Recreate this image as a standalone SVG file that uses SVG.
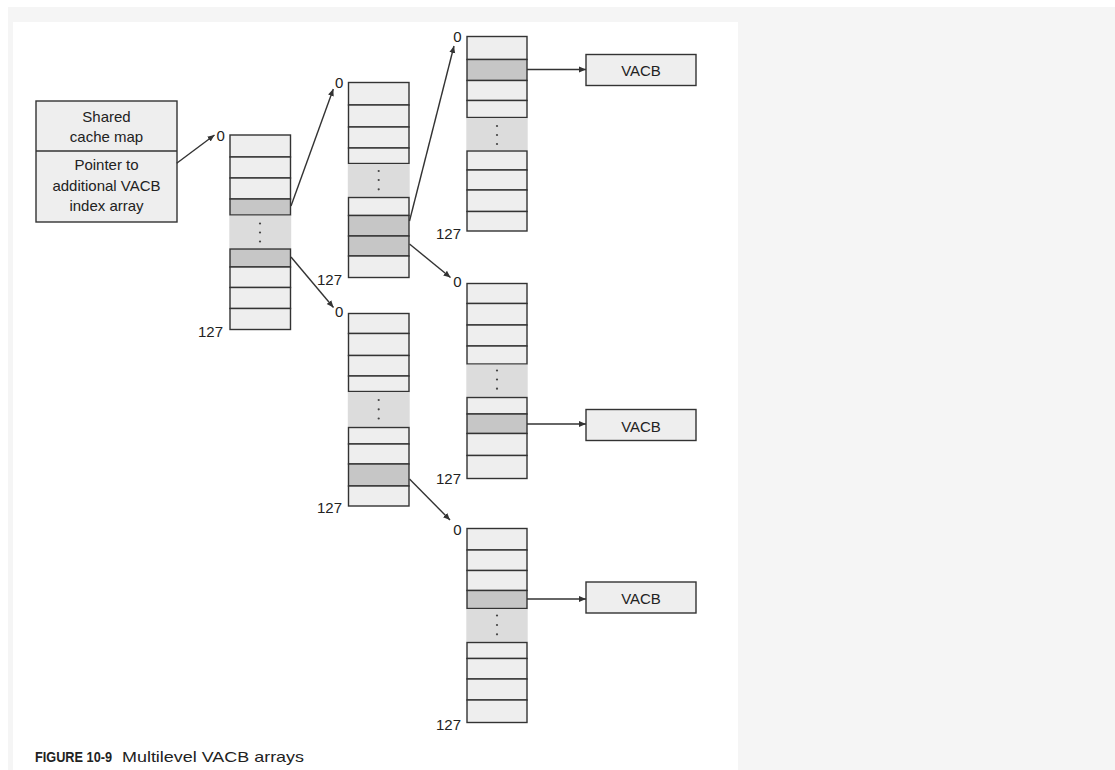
<svg xmlns="http://www.w3.org/2000/svg" width="1115" height="770" viewBox="0 0 1115 770">
<style>
.l{fill:#eeeeee;stroke:#333;stroke-width:1.4}
.d{fill:#c6c6c6;stroke:#333;stroke-width:1.4}
.g{fill:#dcdcdc;stroke:none}
.dot{fill:#444}
.t{font-family:"Liberation Sans",Arial,sans-serif;font-size:15px;fill:#222}
.c{text-anchor:middle}
.e{text-anchor:end}
.cn{stroke:#333;stroke-width:1.4;fill:none;marker-end:url(#ah)}
</style>
<defs>
<marker id="ah" markerUnits="userSpaceOnUse" markerWidth="8" markerHeight="8" viewBox="0 0 8 8" refX="7" refY="4" orient="auto">
<path d="M0,1 L7,4 L0,7 Z" fill="#333"/>
</marker>
</defs>
<rect x="0" y="0" width="1115" height="770" fill="#ffffff"/>
<rect x="8" y="7" width="1107" height="763" fill="#f5f5f5"/>
<rect x="13" y="22" width="725" height="748" fill="#ffffff"/>

<g id="shared-cache-map">
<rect x="36" y="101" width="141" height="121" class="l"/>
<line x1="36" y1="151" x2="177" y2="151" stroke="#333" stroke-width="1.4"/>
<text class="t c" x="106.5" y="122">Shared</text>
<text class="t c" x="106.5" y="142">cache map</text>
<text class="t c" x="106.5" y="169.5">Pointer to</text>
<text class="t c" x="106.5" y="190.5">additional VACB</text>
<text class="t c" x="106.5" y="210.5">index array</text>
</g>

<g id="array-1">
<rect x="230" y="135" width="60.5" height="22" class="l"/>
<rect x="230" y="157" width="60.5" height="21" class="l"/>
<rect x="230" y="178" width="60.5" height="21" class="l"/>
<rect x="230" y="199" width="60.5" height="16" class="d"/>
<rect x="229.3" y="215.7" width="61.9" height="32.6" class="g"/>
<circle class="dot" cx="260" cy="223.5" r="1.1"/><circle class="dot" cx="260" cy="232.5" r="1.1"/><circle class="dot" cx="260" cy="241.5" r="1.1"/>
<rect x="230" y="249" width="60.5" height="18" class="d"/>
<rect x="230" y="267" width="60.5" height="20.5" class="l"/>
<rect x="230" y="287.5" width="60.5" height="21" class="l"/>
<rect x="230" y="308.5" width="60.5" height="21" class="l"/>
<text class="t" x="216.5" y="140.5">0</text>
<text class="t e" x="223" y="336.5">127</text>
</g>

<g id="array-2a">
<rect x="348.5" y="82.5" width="60.5" height="22.5" class="l"/>
<rect x="348.5" y="105" width="60.5" height="22" class="l"/>
<rect x="348.5" y="127" width="60.5" height="21" class="l"/>
<rect x="348.5" y="148" width="60.5" height="15.5" class="l"/>
<rect x="347.8" y="164.2" width="61.9" height="32.6" class="g"/>
<circle class="dot" cx="378.7" cy="171" r="1.1"/><circle class="dot" cx="378.7" cy="180" r="1.1"/><circle class="dot" cx="378.7" cy="189.3" r="1.1"/>
<rect x="348.5" y="197.5" width="60.5" height="18" class="l"/>
<rect x="348.5" y="215.5" width="60.5" height="20.5" class="d"/>
<rect x="348.5" y="236" width="60.5" height="20" class="d"/>
<rect x="348.5" y="256" width="60.5" height="21.5" class="l"/>
<text class="t" x="335" y="88">0</text>
<text class="t e" x="342" y="285">127</text>
</g>

<g id="array-2b">
<rect x="348.5" y="313.5" width="60.5" height="20" class="l"/>
<rect x="348.5" y="333.5" width="60.5" height="22" class="l"/>
<rect x="348.5" y="355.5" width="60.5" height="20.5" class="l"/>
<rect x="348.5" y="376" width="60.5" height="15.5" class="l"/>
<rect x="347.8" y="392.2" width="61.9" height="34.6" class="g"/>
<circle class="dot" cx="378.7" cy="400" r="1.1"/><circle class="dot" cx="378.7" cy="409.3" r="1.1"/><circle class="dot" cx="378.7" cy="418.5" r="1.1"/>
<rect x="348.5" y="427.5" width="60.5" height="16.5" class="l"/>
<rect x="348.5" y="444" width="60.5" height="20" class="l"/>
<rect x="348.5" y="464" width="60.5" height="22" class="d"/>
<rect x="348.5" y="486" width="60.5" height="20" class="l"/>
<text class="t" x="335" y="316.5">0</text>
<text class="t e" x="342" y="512.5">127</text>
</g>

<g id="array-3a">
<rect x="467" y="36.5" width="60" height="23" class="l"/>
<rect x="467" y="59.5" width="60" height="21" class="d"/>
<rect x="467" y="80.5" width="60" height="20" class="l"/>
<rect x="467" y="100.5" width="60" height="17" class="l"/>
<rect x="466.3" y="118.2" width="61.4" height="32.1" class="g"/>
<circle class="dot" cx="497" cy="126" r="1.1"/><circle class="dot" cx="497" cy="135" r="1.1"/><circle class="dot" cx="497" cy="144" r="1.1"/>
<rect x="467" y="151" width="60" height="19" class="l"/>
<rect x="467" y="170" width="60" height="20" class="l"/>
<rect x="467" y="190" width="60" height="21.5" class="l"/>
<rect x="467" y="211.5" width="60" height="19.5" class="l"/>
<text class="t" x="453.3" y="41.5">0</text>
<text class="t e" x="461" y="238.5">127</text>
</g>

<g id="array-3b">
<rect x="467" y="283.5" width="60" height="20" class="l"/>
<rect x="467" y="303.5" width="60" height="21.5" class="l"/>
<rect x="467" y="325" width="60" height="21" class="l"/>
<rect x="467" y="346" width="60" height="18" class="l"/>
<rect x="466.3" y="364.7" width="61.4" height="32.1" class="g"/>
<circle class="dot" cx="497" cy="370.5" r="1.1"/><circle class="dot" cx="497" cy="379.5" r="1.1"/><circle class="dot" cx="497" cy="388.7" r="1.1"/>
<rect x="467" y="397.5" width="60" height="16.5" class="l"/>
<rect x="467" y="414" width="60" height="19.5" class="d"/>
<rect x="467" y="433.5" width="60" height="22" class="l"/>
<rect x="467" y="455.5" width="60" height="23" class="l"/>
<text class="t" x="453.3" y="286.5">0</text>
<text class="t e" x="461" y="483.5">127</text>
</g>

<g id="array-3c">
<rect x="467" y="528.5" width="60" height="21.5" class="l"/>
<rect x="467" y="550" width="60" height="20.5" class="l"/>
<rect x="467" y="570.5" width="60" height="20" class="l"/>
<rect x="467" y="590.5" width="60" height="18" class="d"/>
<rect x="466.3" y="609.2" width="61.4" height="32.6" class="g"/>
<circle class="dot" cx="497" cy="615.5" r="1.1"/><circle class="dot" cx="497" cy="625" r="1.1"/><circle class="dot" cx="497" cy="634.3" r="1.1"/>
<rect x="467" y="642.5" width="60" height="16" class="l"/>
<rect x="467" y="658.5" width="60" height="20.5" class="l"/>
<rect x="467" y="679" width="60" height="21" class="l"/>
<rect x="467" y="700" width="60" height="22.5" class="l"/>
<text class="t" x="453.3" y="535">0</text>
<text class="t e" x="461" y="730">127</text>
</g>

<g id="vacb-1">
<rect x="586" y="54.5" width="110" height="31" class="l"/>
<text class="t c" x="641" y="75.5">VACB</text>
</g>
<g id="vacb-2">
<rect x="586" y="409.5" width="110" height="31" class="l"/>
<text class="t c" x="641" y="431.5">VACB</text>
</g>
<g id="vacb-3">
<rect x="586" y="582" width="110" height="31" class="l"/>
<text class="t c" x="641" y="604">VACB</text>
</g>

<g id="connectors">
<line class="cn" x1="176.7" y1="163.3" x2="214.5" y2="135"/>
<line class="cn" x1="291" y1="206" x2="333.3" y2="89"/>
<line class="cn" x1="291" y1="257" x2="333.5" y2="307.5"/>
<line class="cn" x1="409.5" y1="221" x2="454" y2="46"/>
<line class="cn" x1="409.5" y1="244" x2="450.5" y2="277.5"/>
<line class="cn" x1="527" y1="69.5" x2="586" y2="69.5"/>
<line class="cn" x1="527" y1="424" x2="586" y2="424"/>
<line class="cn" x1="409.5" y1="479" x2="450" y2="520"/>
<line class="cn" x1="527" y1="599" x2="586" y2="599"/>
</g>

<g id="caption">
<text class="t" x="35" y="762" font-weight="bold" textLength="77" lengthAdjust="spacingAndGlyphs">FIGURE 10-9</text>
<text class="t" x="122" y="762" textLength="182" lengthAdjust="spacingAndGlyphs">Multilevel VACB arrays</text>
</g>
</svg>
